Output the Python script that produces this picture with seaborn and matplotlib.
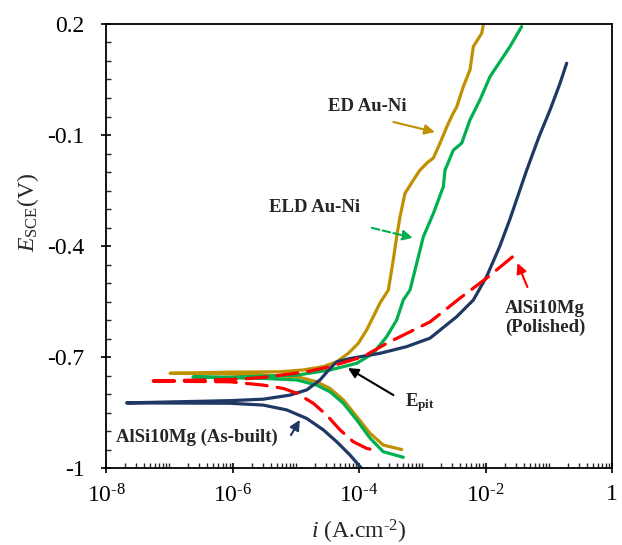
import numpy as np
import pandas as pd
import matplotlib
matplotlib.use("Agg")
import matplotlib.pyplot as plt
import matplotlib.ticker as mticker
import seaborn as sns

# ---------------- data ----------------
# ED Au-Ni : cathodic branch (high i -> Ecorr) then anodic branch
ed_i = [4.73e-4, 4.45e-4, 2.42e-4, 1.49e-4, 9.2e-5, 5.65e-5, 3.48e-5, 2.14e-5, 1.04e-5,
        9.12e-7, 1.03e-7,
        9.12e-7, 5.64e-6, 1.32e-5, 2.73e-5, 4.44e-5, 6.78e-5, 9.75e-5, 1.32e-4, 1.68e-4,
        2.15e-4, 2.91e-4, 3.48e-4, 3.94e-4, 4.45e-4, 5.33e-4, 7.22e-4, 9.2e-4, 1.2e-3,
        1.5e-3, 1.91e-3, 2.44e-3, 3.0e-3, 3.51e-3, 4.46e-3, 5.69e-3, 6.42e-3, 8.71e-3, 9.4e-3]
ed_E = [-0.950, -0.949, -0.938, -0.906, -0.861, -0.816, -0.785, -0.767, -0.753,
        -0.746, -0.744,
        -0.741, -0.740, -0.735, -0.726, -0.713, -0.690, -0.663, -0.627, -0.591,
        -0.554, -0.519, -0.438, -0.375, -0.321, -0.258, -0.222, -0.195, -0.175,
        -0.162, -0.122, -0.078, -0.045, -0.024, 0.031, 0.076, 0.139, 0.175, 0.205]

# ELD Au-Ni
eld_i = [5.01e-4, 2.42e-4, 1.49e-4, 9.2e-5, 5.65e-5, 3.48e-5, 2.14e-5, 1.04e-5, 3.07e-6,
         2.37e-7,
         9.12e-7, 1.04e-5, 3.48e-5, 9.2e-5, 1.68e-4, 2.74e-4, 3.94e-4, 5.01e-4, 6.4e-4,
         8.17e-4, 1.04e-3, 1.5e-3, 2.15e-3, 2.29e-3, 3.1e-3, 4.21e-3, 5.69e-3, 8.18e-3,
         1.18e-2, 2.44e-2, 3.73e-2]
eld_E = [-0.971, -0.956, -0.919, -0.870, -0.825, -0.794, -0.776, -0.762, -0.758,
         -0.754,
         -0.755, -0.749, -0.735, -0.717, -0.690, -0.645, -0.600, -0.546, -0.519,
         -0.447, -0.375, -0.312, -0.240, -0.195, -0.141, -0.122, -0.059, -0.005,
         0.058, 0.139, 0.193]

# AlSi10Mg (Polished)
pol_i = [1.49e-4, 1.32e-4, 8.13e-5, 5.01e-5, 3.08e-5, 1.89e-5, 1.04e-5, 6.36e-6, 3.07e-6,
         9.12e-7, 4.67e-8,
         1.31e-6, 3.07e-6, 1.49e-5, 3.48e-5, 1.17e-4, 2.74e-4, 6.4e-4, 1.33e-3, 3.95e-3,
         1.04e-2, 3.11e-2]
pol_E = [-0.949, -0.947, -0.929, -0.897, -0.857, -0.825, -0.798, -0.785, -0.776,
         -0.767, -0.765,
         -0.760, -0.755, -0.740, -0.726, -0.699, -0.663, -0.632, -0.605, -0.541,
         -0.487, -0.420]

# AlSi10Mg (As-built)
ab_i = [1.13e-4, 1.10e-4, 7.21e-5, 4.44e-5, 2.73e-5, 1.49e-5, 7.19e-6, 3.07e-6, 9.12e-7,
        2.12e-8,
        9.12e-7, 3.07e-6, 8.11e-6, 1.49e-5, 2.42e-5, 3.48e-5, 4.44e-5, 7.21e-5, 2.15e-4,
        5.67e-4, 1.33e-3, 3.51e-3, 6.42e-3, 1.04e-2, 1.69e-2, 2.44e-2, 4.48e-2,
        7.0e-2, 1.05e-1, 1.51e-1, 1.92e-1]
ab_E = [-1.005, -1.001, -0.965, -0.929, -0.897, -0.866, -0.843, -0.830, -0.825,
        -0.824,
        -0.818, -0.814, -0.803, -0.789, -0.762, -0.731, -0.713, -0.704, -0.690,
        -0.672, -0.649, -0.591, -0.546, -0.483, -0.400, -0.327, -0.195,
        -0.105, -0.032, 0.040, 0.094]

x_ticks = [1e-8, 1e-6, 1e-4, 1e-2, 1]
x_labels = ["10$^{\\text{-8}}$", "10$^{\\text{-6}}$", "10$^{\\text{-4}}$", "10$^{\\text{-2}}$", "1"]
y_ticks = [0.2, -0.1, -0.4, -0.7, -1.0]
y_labels = ["0.2", "-0.1", "-0.4", "-0.7", "-1"]

# ---------------- style ----------------
sns.set_style("ticks")
plt.rcParams["font.family"] = ["Liberation Serif", "DejaVu Serif"]
plt.rcParams["mathtext.fontset"] = "custom"
plt.rcParams["mathtext.rm"] = "Liberation Serif"
plt.rcParams["mathtext.it"] = "Liberation Serif:italic"
plt.rcParams["mathtext.bf"] = "Liberation Serif:bold"
plt.rcParams["axes.unicode_minus"] = False

GOLD = "#BF9000"
GREEN = "#00B050"
RED = "#FF0000"
NAVY = "#1F3864"

fig = plt.figure(figsize=(6.22, 5.45), dpi=100)
ax = fig.add_axes([106 / 622, 1 - 468 / 545, 506 / 622, 444 / 545])

series = [
    ("ED Au-Ni", ed_i, ed_E, GOLD, "-"),
    ("ELD Au-Ni", eld_i, eld_E, GREEN, "-"),
    ("AlSi10Mg (As-built)", ab_i, ab_E, NAVY, "-"),
    ("AlSi10Mg (Polished)", pol_i, pol_E, RED, "--"),
]
for name, xi, ye, col, ls in series:
    df = pd.DataFrame({"i": xi, "E": ye})
    sns.lineplot(data=df, x="i", y="E", sort=False, estimator=None,
                 color=col, lw=2.3, ax=ax)
    ln = ax.lines[-1]
    ln.set_solid_joinstyle("round")
    ln.set_solid_capstyle("round")
    if ls == "--":
        ln.set_dashes([6.5, 3.2])
        ln.set_dash_capstyle("round")

ax.set_xscale("log")
ax.set_xlim(1e-8, 1)
ax.set_ylim(-1.0, 0.2)

ax.set_xticks(x_ticks)
ax.set_xticklabels(x_labels)
ax.xaxis.set_minor_locator(mticker.LogLocator(base=10, subs=np.arange(1, 10), numticks=100))
ax.xaxis.set_minor_formatter(mticker.NullFormatter())
ax.set_yticks(y_ticks)
ax.set_yticklabels(y_labels)
ax.yaxis.set_minor_locator(mticker.MultipleLocator(0.05))

ax.tick_params(axis="both", which="major", direction="inout", length=7, width=1.2,
               labelsize=17, colors="black")
ax.tick_params(axis="y", which="major", pad=12)
ax.tick_params(axis="x", which="major", pad=8)
ax.tick_params(axis="both", which="minor", direction="in", length=3.5, width=1.0)
for s in ax.spines.values():
    s.set_linewidth(1.3)
    s.set_color("black")

ax.set_xlabel("$i$ (A.cm$^{\\text{-2}}$)", fontsize=17, labelpad=8)
ax.set_ylabel("$E_{\\mathrm{SCE}}$(V)", fontsize=17)
ax.yaxis.set_label_coords(-0.128, 0.575)

# ---------------- annotations ----------------
def arrow(xy, xytext, col, ls="-"):
    ax.annotate("", xy=xy, xytext=xytext,
                arrowprops=dict(arrowstyle="-|>", color=col, lw=1.5, ls=ls,
                                mutation_scale=15, shrinkA=0, shrinkB=0))

ax.text(1.34e-4, -0.024, "ED Au-Ni", fontsize=13.5, fontweight="bold", ha="center", va="center")
arrow((1.58e-3, -0.092), (3.5e-4, -0.065), GOLD)
ax.text(2.0e-5, -0.297, "ELD Au-Ni", fontsize=13.5, fontweight="bold", ha="center", va="center")
arrow((7.1e-4, -0.378), (1.6e-4, -0.351), GREEN, ls="--")
ax.text(8.7e-2, -0.595, "AlSi10Mg\n(Polished)", fontsize=13.5, fontweight="bold",
        ha="center", va="center", linespacing=1.1)
arrow((3.2e-2, -0.446), (4.6e-2, -0.511), RED)
ax.text(5.3e-4, -0.824, "E$_{\\mathbf{pit}}$", fontsize=13.5, fontweight="bold", ha="left", va="center")
arrow((6.7e-5, -0.730), (3.5e-4, -0.803), "black")
ax.text(2.75e-7, -0.916, "AlSi10Mg (As-built)", fontsize=13.5, fontweight="bold",
        ha="center", va="center")
arrow((1.16e-5, -0.870), (8.4e-6, -0.911), NAVY)

fig.savefig("out.png", dpi=100)
